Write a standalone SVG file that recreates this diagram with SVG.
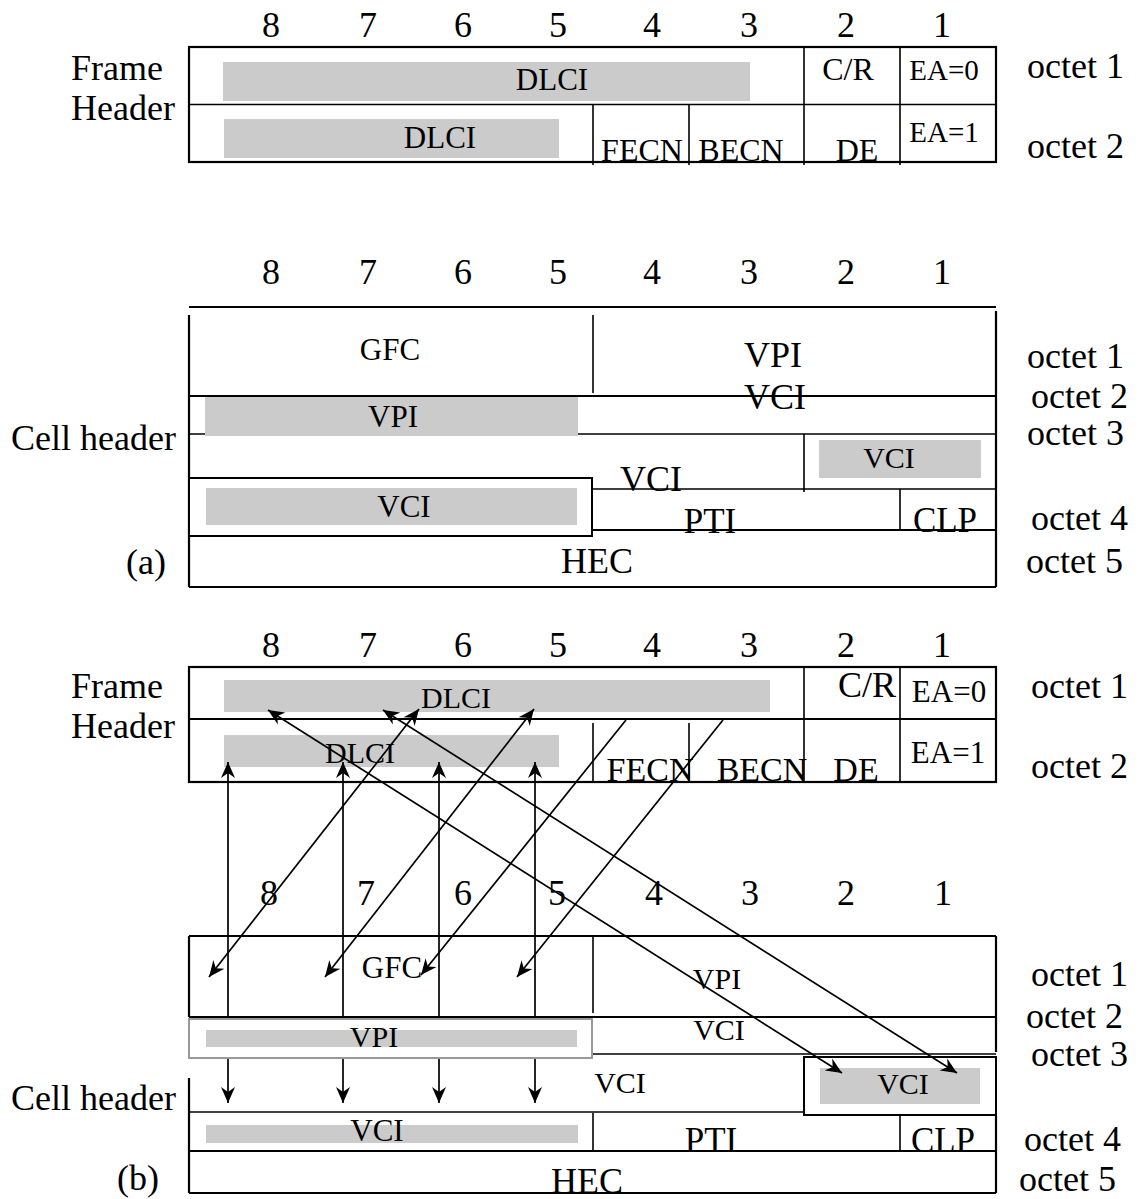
<svg xmlns="http://www.w3.org/2000/svg" width="1139" height="1199" viewBox="0 0 1139 1199">
<style>
text{font-family:'Liberation Serif','Times New Roman',serif;fill:#000}
.b{font-size:36px}
.s{font-size:31px}
.m{text-anchor:middle}
.ln{stroke:#000;stroke-width:1.6;fill:none}
.bd{stroke:#000;stroke-width:2.2;fill:none}
.bar{fill:#cbcbcb}
.box{fill:#fff;stroke:#000;stroke-width:2}
.ar{stroke:#000;stroke-width:1.7;fill:none}
</style>
<defs>
<marker id="ah" viewBox="0 -8 17 16" refX="16" refY="0" markerWidth="17" markerHeight="16" markerUnits="userSpaceOnUse" orient="auto-start-reverse">
<path d="M0,-7 L16,0 L0,7 L5,0 z" fill="#000"/>
</marker>
</defs>
<rect width="1139" height="1199" fill="#fff"/>

<!-- ===== Top: Frame header (a) ===== -->
<g id="frame-a">
<g class="b m">
<text x="271" y="37">8</text><text x="368" y="37">7</text><text x="463" y="37">6</text><text x="558" y="37">5</text>
<text x="652" y="37">4</text><text x="749" y="37">3</text><text x="846" y="37">2</text><text x="942" y="37">1</text>
</g>
<text class="b" x="71" y="80">Frame</text>
<text class="b" x="71" y="120">Header</text>
<rect class="bar" x="223" y="62" width="527" height="39"/>
<rect class="bar" x="224" y="119" width="335" height="39"/>
<rect class="bd" x="189" y="47" width="807" height="115"/>
<line class="ln" x1="189" y1="104.5" x2="996" y2="104.5"/>
<line class="ln" x1="804" y1="47" x2="804" y2="165"/>
<line class="ln" x1="900" y1="47" x2="900" y2="165"/>
<line class="ln" x1="593" y1="105" x2="593" y2="165"/>
<line class="ln" x1="689" y1="105" x2="689" y2="165"/>
<text class="s m" x="552" y="90">DLCI</text>
<text class="s m" x="440" y="148">DLCI</text>
<text class="m" style="font-size:32px" x="848" y="80">C/R</text>
<text class="m" style="font-size:29px" x="944" y="80">EA=0</text>
<text class="m" style="font-size:29px" x="944" y="142">EA=1</text>
<text class="m" style="font-size:32px" x="642" y="161">FECN</text>
<text class="m" style="font-size:32px" x="741" y="161">BECN</text>
<text class="m" style="font-size:32px" x="857" y="161">DE</text>
<text class="b" x="1027" y="78">octet 1</text>
<text class="b" x="1027" y="158">octet 2</text>
</g>

<!-- ===== Cell header (a) ===== -->
<g id="cell-a">
<g class="b m">
<text x="271" y="284">8</text><text x="368" y="284">7</text><text x="463" y="284">6</text><text x="558" y="284">5</text>
<text x="652" y="284">4</text><text x="749" y="284">3</text><text x="846" y="284">2</text><text x="942" y="284">1</text>
</g>
<line class="bd" x1="189" y1="307" x2="996" y2="307"/>
<line class="bd" x1="189" y1="315" x2="189" y2="587"/>
<line class="bd" x1="996" y1="311" x2="996" y2="587"/>
<line class="ln" x1="593" y1="315" x2="593" y2="393"/>
<line class="bd" x1="189" y1="396" x2="996" y2="396"/>
<line class="ln" x1="189" y1="434" x2="996" y2="434"/>
<rect class="bar" x="205" y="397" width="373" height="39"/>
<line class="ln" x1="804" y1="434" x2="804" y2="492"/>
<line class="ln" x1="593" y1="489" x2="996" y2="489"/>
<rect class="bar" x="819" y="440" width="162" height="38"/>
<rect class="box" x="189" y="478" width="403" height="58"/>
<rect class="bar" x="206" y="488" width="371" height="37"/>
<line class="ln" x1="900" y1="489" x2="900" y2="529"/>
<line class="bd" x1="592" y1="530" x2="996" y2="530"/>
<line class="bd" x1="189" y1="587" x2="996" y2="587"/>
<text class="s m" x="390" y="360">GFC</text>
<text class="b m" x="773" y="367">VPI</text>
<text class="b m" x="775" y="409">VCI</text>
<text class="s m" x="393" y="427">VPI</text>
<text class="m" style="font-size:30px" x="889" y="468">VCI</text>
<text class="b m" x="651" y="491">VCI</text>
<text class="s m" x="404" y="517">VCI</text>
<text class="m" style="font-size:35px" x="710" y="533">PTI</text>
<text class="m" style="font-size:35px" x="945" y="532">CLP</text>
<text class="b m" x="597" y="573">HEC</text>
<text class="b m" x="146" y="574">(a)</text>
<text class="b" x="11" y="450">Cell header</text>
<text class="b" x="1027" y="368">octet 1</text>
<text class="b" x="1031" y="408">octet 2</text>
<text class="b" x="1027" y="445">octet 3</text>
<text class="b" x="1031" y="530">octet 4</text>
<text class="b" x="1026" y="573">octet 5</text>
</g>

<!-- ===== Frame header (b) ===== -->
<g id="frame-b">
<g class="b m">
<text x="271" y="657">8</text><text x="368" y="657">7</text><text x="463" y="657">6</text><text x="558" y="657">5</text>
<text x="652" y="657">4</text><text x="749" y="657">3</text><text x="846" y="657">2</text><text x="942" y="657">1</text>
</g>
<text class="b" x="71" y="698">Frame</text>
<text class="b" x="71" y="738">Header</text>
<rect class="bar" x="224" y="680" width="546" height="32"/>
<rect class="bar" x="224" y="735" width="335" height="32"/>
<rect class="bd" x="189" y="667" width="807" height="115"/>
<line class="bd" x1="189" y1="719" x2="996" y2="719"/>
<line class="ln" x1="804" y1="667" x2="804" y2="782"/>
<line class="ln" x1="900" y1="667" x2="900" y2="782"/>
<line class="ln" x1="593" y1="723" x2="593" y2="782"/>
<line class="ln" x1="689" y1="723" x2="689" y2="782"/>
<text class="m" style="font-size:30px" x="456" y="708">DLCI</text>
<text class="m" style="font-size:30px" x="360" y="763">DLCI</text>
<text class="b m" x="867" y="697">C/R</text>
<text class="s m" x="949" y="702">EA=0</text>
<text class="s m" x="948" y="763">EA=1</text>
<text class="m" style="font-size:34px" x="650" y="781">FECN</text>
<text class="m" style="font-size:34px" x="762" y="781">BECN</text>
<text class="m" style="font-size:34px" x="856" y="781">DE</text>
<text class="b" x="1031" y="698">octet 1</text>
<text class="b" x="1031" y="778">octet 2</text>
</g>

<!-- ===== Cell header (b) ===== -->
<g id="cell-b">
<g class="b m">
<text x="269" y="905">8</text><text x="366" y="905">7</text><text x="463" y="905">6</text><text x="557" y="905">5</text>
<text x="654" y="905">4</text><text x="750" y="905">3</text><text x="846" y="905">2</text><text x="943" y="905">1</text>
</g>
<line class="bd" x1="189" y1="936" x2="996" y2="936"/>
<line class="bd" x1="189" y1="936" x2="189" y2="1017"/>
<line class="bd" x1="189" y1="1078" x2="189" y2="1193"/>
<line class="bd" x1="996" y1="936" x2="996" y2="1052"/>
<line class="bd" x1="996" y1="1116" x2="996" y2="1193"/>
<line class="ln" x1="593" y1="936" x2="593" y2="1013"/>
<line class="bd" x1="189" y1="1017" x2="996" y2="1017"/>
<line class="ln" x1="593" y1="1054" x2="996" y2="1054"/>
<line class="ln" x1="189" y1="1112" x2="804" y2="1112"/>
<rect class="box" x="804" y="1057" width="192" height="58"/>
<rect class="bar" x="820" y="1068" width="160" height="36"/>
<line class="ln" x1="593" y1="1113" x2="593" y2="1150"/>
<line class="ln" x1="900" y1="1116" x2="900" y2="1150"/>
<line class="bd" x1="189" y1="1151" x2="996" y2="1151"/>
<line class="bd" x1="189" y1="1193" x2="996" y2="1193"/>
<rect class="bar" x="206" y="1125" width="372" height="18"/>
<text class="s m" x="392" y="978">GFC</text>
<text class="m" style="font-size:30px" x="717" y="989">VPI</text>
<text class="m" style="font-size:30px" x="719" y="1040">VCI</text>
<text class="m" style="font-size:30px" x="620" y="1093">VCI</text>
<text class="m" style="font-size:30px" x="903" y="1094">VCI</text>
<text class="s m" x="377" y="1141">VCI</text>
<text class="m" style="font-size:35px" x="711" y="1152">PTI</text>
<text class="m" style="font-size:35px" x="943" y="1152">CLP</text>
<text class="b m" x="587" y="1193">HEC</text>
<text class="b m" x="138" y="1190">(b)</text>
<text class="b" x="11" y="1110">Cell header</text>
<text class="b" x="1031" y="986">octet 1</text>
<text class="b" x="1026" y="1028">octet 2</text>
<text class="b" x="1031" y="1066">octet 3</text>
<text class="b" x="1024" y="1151">octet 4</text>
<text class="b" x="1019" y="1191">octet 5</text>
</g>

<!-- ===== Connectors ===== -->
<g id="connectors">
<path class="ar" d="M228,762 L228,1017 M228,1058 L228,1103" marker-start="url(#ah)" marker-end="url(#ah)"/>
<path class="ar" d="M343,762 L343,1017 M343,1058 L343,1103" marker-start="url(#ah)" marker-end="url(#ah)"/>
<path class="ar" d="M439,762 L439,1017 M439,1058 L439,1103" marker-start="url(#ah)" marker-end="url(#ah)"/>
<path class="ar" d="M535,762 L535,1017 M535,1058 L535,1103" marker-start="url(#ah)" marker-end="url(#ah)"/>
<line class="ar" x1="419" y1="709" x2="209" y2="977" marker-start="url(#ah)" marker-end="url(#ah)"/>
<line class="ar" x1="534" y1="709" x2="325" y2="977" marker-start="url(#ah)" marker-end="url(#ah)"/>
<line class="ar" x1="626" y1="720" x2="421" y2="975" marker-end="url(#ah)"/>
<line class="ar" x1="723" y1="720" x2="517" y2="977" marker-end="url(#ah)"/>
<line class="ar" x1="268" y1="710" x2="842" y2="1073" marker-start="url(#ah)" marker-end="url(#ah)"/>
<line class="ar" x1="383" y1="710" x2="957" y2="1073" marker-start="url(#ah)" marker-end="url(#ah)"/>
</g>

<g id="vpi-box-b">
<rect x="189" y="1019" width="403" height="39" fill="#fff" stroke="#999" stroke-width="2"/>
<rect class="bar" x="206" y="1030" width="371" height="17"/>
<text class="m" style="font-size:30px" x="374" y="1047">VPI</text>
</g>
</svg>
